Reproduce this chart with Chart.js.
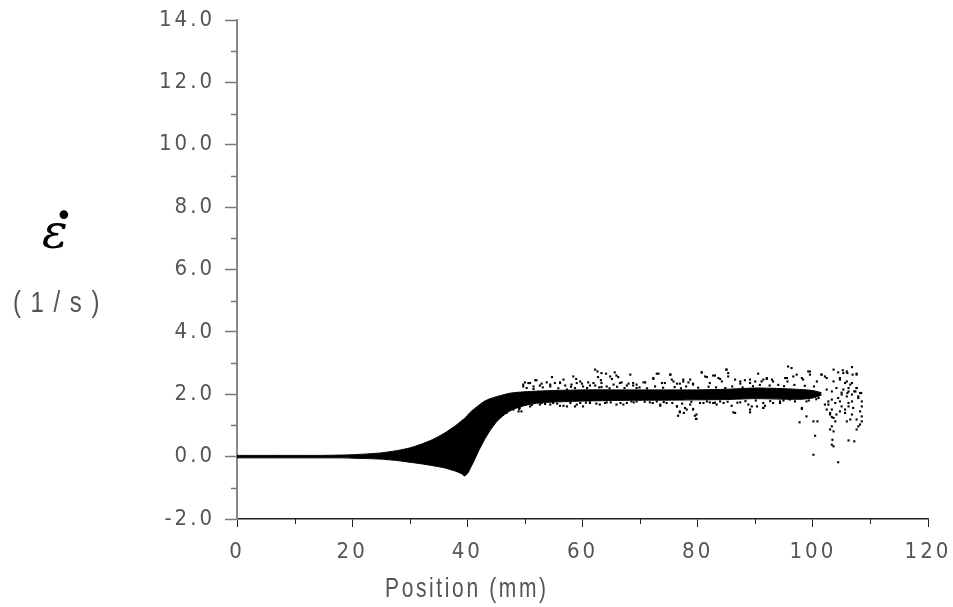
<!DOCTYPE html>
<html>
<head>
<meta charset="utf-8">
<script src="https://cdn.jsdelivr.net/npm/chart.js@4/dist/chart.umd.min.js"></script>
<style>
  html, body { margin: 0; padding: 0; background: #fff; }
  #wrap { position: relative; width: 953px; height: 607px; overflow: hidden; }
  .lbl { position: absolute; white-space: nowrap; line-height: 1; transform-origin: 0 0; }
  #eps { left: 42px; top: 203px; font: italic 48px 'DejaVu Serif', serif; color: #000; }
  #dot { left: 55px; top: 198px; font: 30px 'DejaVu Sans', sans-serif; color: #000; }
  #unit { left: 13px; top: 285px; font: 30px 'Liberation Sans', sans-serif; color: #555; letter-spacing: 12px; transform: scaleX(0.8); }
  #xtitle { left: 385px; top: 572px; font: 28px 'Liberation Sans', sans-serif; color: #555; letter-spacing: 3.5px; transform: scaleX(0.75); }
</style>
</head>
<body>
<div id="wrap">
  <canvas id="c" width="953" height="607"></canvas>
  <div class="lbl" id="eps">ε</div>
  <div class="lbl" id="dot">•</div>
  <div class="lbl" id="unit">(1/s)</div>
  <div class="lbl" id="xtitle">Position (mm)</div>
</div>
<script>
// ---- tick labels ----
const xTickValues = [0, 20, 40, 60, 80, 100, 120];
const xMinorTicks = [10, 30, 50, 70, 90, 110];
const yTickValues = [-2, 0, 2, 4, 6, 8, 10, 12, 14];
const yMinorTicks = [-1, 1, 3, 5, 7, 9, 11, 13];

// ---- dense core of the point cloud (upper / lower envelope) ----
const coreX     = [0, 5, 10, 15, 18, 20, 22, 25, 28, 30, 32, 34, 36, 38, 39, 39.5, 40, 40.5, 41, 42, 43, 44, 45, 46, 47, 48, 50, 52, 55, 60, 65, 70, 75, 80, 85, 90, 95, 98, 100, 101.5];
const coreUpper = [0.04, 0.04, 0.04, 0.04, 0.05, 0.06, 0.08, 0.12, 0.2, 0.28, 0.4, 0.55, 0.75, 1.0, 1.15, 1.22, 1.32, 1.42, 1.5, 1.65, 1.78, 1.86, 1.92, 1.97, 2.02, 2.05, 2.08, 2.1, 2.12, 2.14, 2.14, 2.14, 2.14, 2.14, 2.16, 2.2, 2.18, 2.15, 2.12, 2.05];
const coreLower = [-0.04, -0.04, -0.04, -0.04, -0.04, -0.05, -0.06, -0.08, -0.13, -0.18, -0.23, -0.29, -0.36, -0.47, -0.55, -0.62, -0.55, -0.38, -0.2, 0.2, 0.55, 0.85, 1.1, 1.28, 1.42, 1.52, 1.64, 1.71, 1.75, 1.78, 1.8, 1.81, 1.81, 1.82, 1.83, 1.86, 1.84, 1.84, 1.88, 1.97];

// ---- scattered points around the core ----
const scatterPoints = [
  [62.2,2.79],[62.6,2.73],[63.3,2.68],[64.1,2.66],[64.8,2.57],[65.6,2.70],[65.9,2.60],[66.2,2.55],[65.1,2.49],[62.7,2.55],
  [63.2,2.45],[61.9,2.36],[61.3,2.28],[59.6,2.41],[58.9,2.49],[58.4,2.57],[56.7,2.47],[56.1,2.36],[54.7,2.55],[53.8,2.38],
  [52.9,2.34],[51.8,2.45],[50.9,2.36],[50.0,2.38],[49.7,2.25],[51.5,2.17],[54.4,2.25],[57.3,2.15],[58.7,2.20],[60.1,2.25],
  [63.3,2.23],[66.5,2.36],[67.7,2.28],[68.8,2.36],[69.4,2.20],[70.6,2.38],[72.3,2.52],[73.2,2.66],[74.3,2.36],[75.3,2.63],
  [75.8,2.41],[76.9,2.34],[77.5,2.47],[78.4,2.38],[79.2,2.31],[80.7,2.70],[81.6,2.55],[82.7,2.60],[83.6,2.52],[84.2,2.41],
  [85.0,2.79],[85.3,2.57],
  [49.0,1.53],[49.4,1.45],[52.9,1.72],[54.4,1.67],[56.7,1.63],[58.7,1.61],[59.6,1.72],[61.3,1.74],[63.9,1.72],[67.1,1.67],
  [69.4,1.77],[72.9,1.77],[73.5,1.63],[76.4,1.61],[76.9,1.45],[77.6,1.40],[78.1,1.51],[78.7,1.67],[79.2,1.53],[79.8,1.35],
  [79.7,1.21],[80.4,1.72],[82.7,1.72],[83.9,1.77],
  [49.7,2.31],[50.6,2.36],[51.5,2.25],[52.0,2.45],[52.6,2.28],[54.4,2.31],[55.2,2.36],[56.1,2.38],[57.0,2.28],[58.1,2.31],
  [59.0,2.36],[59.9,2.34],[61.0,2.38],[62.2,2.28],[63.3,2.36],[64.2,2.25],[65.4,2.31],[66.8,2.38],[68.0,2.34],[68.8,2.28],
  [46.8,1.40],[48.0,1.51],[49.1,1.56],[48.9,1.45],[50.9,1.61],[52.6,1.67],[54.9,1.72],[56.1,1.63],[57.3,1.61],[59.0,1.67],
  [60.1,1.61],[61.3,1.72],[63.0,1.67],[64.2,1.74],[65.9,1.67],[67.7,1.72],
  [68.3,2.63],[69.4,2.31],[70.9,2.38],[72.3,2.49],[72.9,2.66],[73.8,2.36],[75.2,2.63],[75.5,2.47],[76.4,2.34],[77.5,2.41],
  [78.7,2.47],[79.2,2.34],[80.7,2.70],[81.3,2.57],[82.1,2.36],[83.0,2.60],[83.9,2.49],[85.0,2.79],[85.3,2.68],[86.5,2.47],
  [87.4,2.34],[88.2,2.45],[89.1,2.36],[90.5,2.66],[91.1,2.41],[92.0,2.49],
  [68.5,1.77],[70.0,1.83],[71.7,1.74],[73.5,1.67],[74.6,1.72],[76.4,1.61],[76.9,1.42],[76.6,1.31],[77.8,1.56],[79.2,1.51],
  [79.5,1.31],[79.8,1.21],[81.0,1.72],[82.1,1.74],[83.3,1.67],[84.5,1.72],[85.9,1.63],[86.5,1.40],[87.4,1.74],[88.8,1.67],
  [89.1,1.42],[90.3,1.61],[91.4,1.72],
  [91.4,2.47],[93.1,2.41],[95.5,2.52],[96.6,2.57],[98.3,2.47],[99.5,2.73],[99.5,2.63],[101.5,2.63],[102.4,2.52],[103.6,2.41],
  [104.7,2.52],[105.3,2.68],[106.0,2.68],[106.9,2.63],[107.6,2.63],[105.6,2.36],[106.5,2.31],
  [91.4,1.56],[93.1,1.72],[94.3,1.77],[96.0,1.83],[98.1,1.56],[98.9,1.77],[101.0,1.88],[102.1,1.67],[102.7,1.77],[103.3,1.83],
  [103.9,1.72],[104.4,1.88],[105.0,1.99],[106.0,2.04],[106.8,1.77],[106.2,1.61],[105.6,1.51],[104.7,1.45],[104.1,1.35],[103.3,1.27],
  [103.0,1.40],[102.4,1.51],
  [102.4,2.15],[103.3,2.09],[104.1,2.20],[105.3,2.15],[106.2,2.20],[107.2,2.09],[107.6,2.20],[108.2,2.04],[107.9,1.88],
  [87.4,2.41],[89.1,2.47],[90.0,2.41],[92.0,2.52],[92.9,2.47],[95.2,2.52],[95.6,2.41],[95.7,2.89],[96.3,2.84],[97.2,2.63],
  [98.1,2.52],[99.2,2.73],[100.7,2.41],[101.5,2.63],[102.1,2.57],[103.6,2.79],[104.4,2.70],[105.2,2.77],[105.9,2.73],[106.8,2.87],
  [107.6,2.66],[104.7,2.47],[105.9,2.41],[106.8,2.36],[107.6,2.20],
  [86.2,1.42],[89.1,1.51],[89.4,1.61],[91.4,1.56],[91.7,1.63],[94.3,1.72],[98.1,1.53],[98.9,1.29],[97.7,1.10],[100.1,1.13],
  [100.8,1.13],[100.4,0.67],[100.1,0.06],[104.4,-0.18],
  [102.7,1.67],[103.3,1.51],[103.0,1.35],[103.6,1.24],[103.9,1.13],[103.3,0.97],[103.0,0.87],[103.6,0.81],[103.4,0.54],[103.3,0.38],
  [103.6,0.33],[104.7,1.77],[105.0,1.61],[105.6,1.40],[105.9,1.13],[106.5,1.19],[106.8,1.35],[107.0,1.56],[106.2,1.72],[106.2,0.52],
  [107.2,0.49],[107.6,0.87],[108.2,1.03],[108.5,1.13],[108.5,1.29],[108.2,1.45],[108.5,1.61],[108.5,1.77],[107.9,0.97],[107.6,1.19],
  [105.0,2.05],[105.9,1.93],[106.2,2.09],[106.8,1.99],[107.4,2.09],[107.9,1.93],[108.4,2.04],
  [50.3,2.20],[53.1,2.22],[55.8,2.19],[58.0,2.24],[60.8,2.20],[62.9,2.22],[64.7,2.19],[66.0,2.24],[67.3,2.20],[69.9,2.22],
  [71.2,2.19],[72.6,2.25],[74.0,2.21],[76.0,2.23],[77.1,2.19],[78.0,2.25],[80.1,2.21],[81.9,2.24],[83.2,2.22],[84.8,2.20],
  [86.0,2.25],[87.8,2.22],[89.6,2.26],[90.8,2.30],[92.5,2.28],[94.0,2.30],[95.0,2.26],[96.8,2.30],[98.6,2.27],[100.2,2.25],
  [51.2,1.66],[53.5,1.69],[55.6,1.70],[57.9,1.72],[60.6,1.73],[62.4,1.70],[64.9,1.74],[66.6,1.72],[68.9,1.74],[70.8,1.76],
  [72.2,1.72],[74.1,1.75],[75.6,1.72],[77.3,1.70],[78.9,1.76],[81.6,1.77],[83.0,1.73],[85.2,1.76],[86.9,1.73],[88.3,1.78],
  [90.1,1.80],[92.6,1.78],[94.9,1.80],[96.9,1.77],[99.3,1.80],[100.6,1.84]
];

const tickFont = "'Liberation Sans Narrow', 'DejaVu Sans Condensed', 'Liberation Sans', sans-serif";
const labelColor = '#555';

const spacing = {
  id: 'spacing',
  beforeInit(chart) { chart.ctx.letterSpacing = '3px'; },
  beforeDraw(chart) { chart.ctx.letterSpacing = '3px'; }
};

const minorTicks = {
  id: 'minorTicks',
  afterDraw(chart) {
    const ctx = chart.ctx;
    const xs = chart.scales.x, ys = chart.scales.y;
    ctx.save();
    ctx.lineWidth = 1.5;
    ctx.strokeStyle = '#777';
    yMinorTicks.forEach(v => {
      const py = Math.round(ys.getPixelForValue(v)) + 0.5;
      ctx.beginPath();
      ctx.moveTo(xs.left - 6, py);
      ctx.lineTo(xs.left, py);
      ctx.stroke();
    });
    ctx.strokeStyle = '#222';
    ctx.lineWidth = 1;
    xMinorTicks.forEach(v => {
      const px = Math.round(xs.getPixelForValue(v)) + 0.5;
      ctx.beginPath();
      ctx.moveTo(px, ys.bottom);
      ctx.lineTo(px, ys.bottom + 5);
      ctx.stroke();
    });
    ctx.restore();
  }
};

new Chart(document.getElementById('c'), {
  type: 'line',
  data: {
    datasets: [
      {
        label: 'core lower',
        data: coreX.map((x, i) => ({ x: x, y: coreLower[i] })),
        borderColor: '#000', borderWidth: 1, pointRadius: 0, fill: false, tension: 0.2
      },
      {
        label: 'core upper',
        data: coreX.map((x, i) => ({ x: x, y: coreUpper[i] })),
        borderColor: '#000', borderWidth: 1, pointRadius: 0, fill: '-1',
        backgroundColor: '#000', tension: 0.2
      },
      {
        type: 'scatter',
        label: 'points',
        data: scatterPoints.map(p => ({ x: p[0], y: p[1] })),
        backgroundColor: '#000', borderColor: '#000', borderWidth: 0,
        pointStyle: 'rect', pointRadius: 1.5, showLine: false
      }
    ]
  },
  options: {
    responsive: false,
    devicePixelRatio: 1,
    animation: false,
    layout: { padding: { left: 0, right: 25, top: 20, bottom: 0 } },
    plugins: { legend: { display: false }, tooltip: { enabled: false } },
    scales: {
      x: {
        type: 'linear', min: 0, max: 120,
        afterBuildTicks: s => { s.ticks = xTickValues.map(v => ({ value: v })); },
        afterFit: s => { s.height = 88; s.paddingLeft = 0; s.paddingRight = 0; },
        ticks: { font: { family: tickFont, size: 22 }, color: labelColor, padding: 12, maxRotation: 0,
                 callback: v => String(v) },
        grid: { drawOnChartArea: false, drawTicks: true, tickLength: 8, tickColor: '#222', tickWidth: 1 },
        border: { color: '#222', width: 1.5 }
      },
      y: {
        type: 'linear', min: -2, max: 14,
        afterBuildTicks: s => { s.ticks = yTickValues.map(v => ({ value: v })); },
        afterFit: s => { s.width = 237; s.paddingTop = 0; s.paddingBottom = 0; },
        ticks: { font: { family: tickFont, size: 22 }, color: labelColor, padding: 10,
                 callback: v => Number(v).toFixed(1) },
        grid: { drawOnChartArea: false, drawTicks: true, tickLength: 12, tickColor: '#777', tickWidth: 1.5 },
        border: { color: '#888', width: 2 }
      }
    }
  },
  plugins: [spacing, minorTicks]
});
</script>
</body>
</html>
